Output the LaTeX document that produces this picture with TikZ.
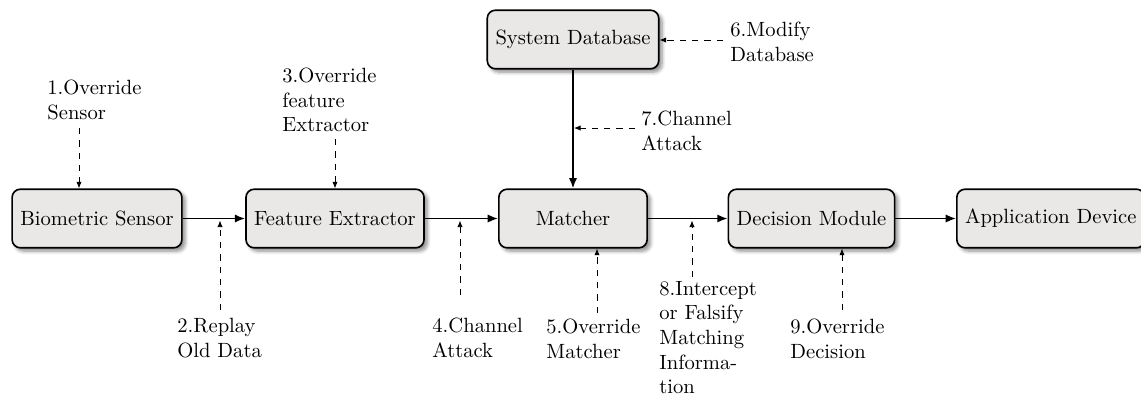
\documentclass[tikz,border=0pt]{standalone}
\usetikzlibrary{arrows.meta,shadows.blur,calc}
\definecolor{boxfill}{RGB}{234,231,231}
\begin{document}
\begin{tikzpicture}[x=0.4854pt,y=-0.4854pt,
  block/.style={draw=black,thick,fill=boxfill,rounded corners=4pt,
    minimum height=1cm,inner xsep=4pt,font=\normalsize,
    blur shadow={shadow xshift=1.6pt,shadow yshift=-1.6pt,shadow blur steps=6,shadow opacity=45}},
  flow/.style={thick,-{Latex[length=5pt,width=4pt]}},
  attack/.style={dashed,thin,-{Latex[length=3.2pt,width=2.6pt]}},
  threat/.style={anchor=north west,align=left,inner sep=0pt}]
\useasboundingbox (0,0) rectangle (1141,398);

% processing chain
\node[block] (bs) at (97,218.5) {Biometric Sensor};
\node[block] (fe) at (335,218.5) {Feature Extractor};
\node[block,minimum width=72pt] (ma) at (573,218.5) {Matcher};
\node[block] (dm) at (811.5,218.5) {Decision Module};
\node[block,anchor=west] (ad) at (956,218.5) {Application Device};
\node[block] (db) at (573,39.5) {System Database};

\draw[flow] (bs) -- (fe);
\draw[flow] (fe) -- (ma);
\draw[flow] (ma) -- (dm);
\draw[flow] (dm) -- (ad);
\draw[flow] (db) -- (ma);

% attack points
\node[threat] (t1) at (47,79.6) {1.Override\\Sensor};
\node[threat] (t2) at (177,317.6) {2.Replay\\Old Data};
\node[threat] (t3) at (282,67.6) {3.Override\\feature\\Extractor};
\node[threat] (t4) at (432,317.6) {4.Channel\\Attack};
\node[threat] (t5) at (546,318.6) {5.Override\\Matcher};
\node[threat] (t6) at (730,21.6) {6.Modify\\Database};
\node[threat] (t7) at (641,110.6) {7.Channel\\Attack};
\node[threat] (t8) at (659,280.6) {8.Intercept\\or Falsify\\Matching\\Informa-\\tion};
\node[threat] (t9) at (790,318.6) {9.Override\\Decision};

\coordinate (a1) at (79,128);
\coordinate (a2) at (220,310);
\coordinate (a3) at (335,139);
\coordinate (a4) at (460,295);
\coordinate (a5) at (597,313);
\coordinate (a6) at (723,40);
\coordinate (a7) at (635,128);
\coordinate (a8) at (692,277);
\coordinate (a9) at (842,310);

\draw[attack] (a1) -- (a1 |- bs.north);
\draw[attack] (a2) -- ($(a2 |- bs.east)+(0,2)$);
\draw[attack] (a3) -- (a3 |- fe.north);
\draw[attack] (a4) -- ($(a4 |- fe.east)+(0,2)$);
\draw[attack] (a5) -- (a5 |- ma.south);
\draw[attack] (a6) -- (a6 -| db.east);
\draw[attack] (a7) -- ($(a7 -| db.south)+(1,0)$);
\draw[attack] (a8) -- ($(a8 |- ma.east)+(0,2)$);
\draw[attack] (a9) -- (a9 |- dm.south);
\end{tikzpicture}
\end{document}
